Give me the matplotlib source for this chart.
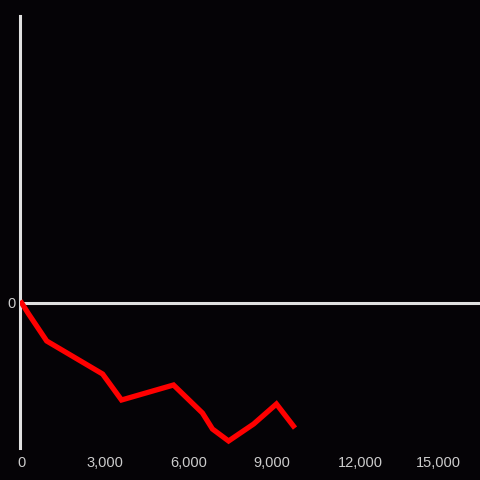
import numpy as np
import matplotlib
matplotlib.use("Agg")
import matplotlib.pyplot as plt
import matplotlib.transforms as mtransforms

x = [0, 250, 900, 2910, 3590, 5460, 6500, 6860, 7440, 8340, 9160, 9770]
y = [0, -11, -38, -71, -97, -82, -110, -126, -138, -121, -101, -123]
xticks = [0, 3000, 6000, 9000, 12000, 15000]

bg = "#050306"
fig = plt.figure(figsize=(4.8, 4.8), dpi=100, facecolor=bg)
ax = fig.add_axes([20 / 480, 32 / 480, 460 / 480, 432 / 480], facecolor=bg)

ax.plot(x, y, color="#ff0000", lw=3.8, solid_joinstyle="miter", zorder=3)
ax.axhline(0, color="#e0e0e0", lw=2.2, zorder=2)

ax.set_xlim(-60, 16480)
ax.set_ylim(-145, 287)

for s in ["top", "right", "bottom"]:
    ax.spines[s].set_visible(False)
ax.spines["left"].set_color("#e0e0e0")
ax.spines["left"].set_linewidth(2.2)

ax.set_xticks(xticks)
ax.set_xticklabels(["{:,}".format(v) for v in xticks])
ax.set_yticks([0])
ax.set_yticklabels(["0"])
ax.tick_params(length=0, colors="#cccccc", labelsize=10.5)
ax.tick_params(axis="x", pad=6)
ax.tick_params(axis="y", pad=3)
for lab in ax.get_xticklabels() + ax.get_yticklabels():
    lab.set_family(["Liberation Sans", "DejaVu Sans"])

# the 12,000 label sits a little right of its tick in the original
lab = ax.get_xticklabels()[4]
lab.set_transform(lab.get_transform() + mtransforms.ScaledTranslation(5 / 100, 0, fig.dpi_scale_trans))

fig.savefig("out.png", dpi=100, facecolor=bg)
